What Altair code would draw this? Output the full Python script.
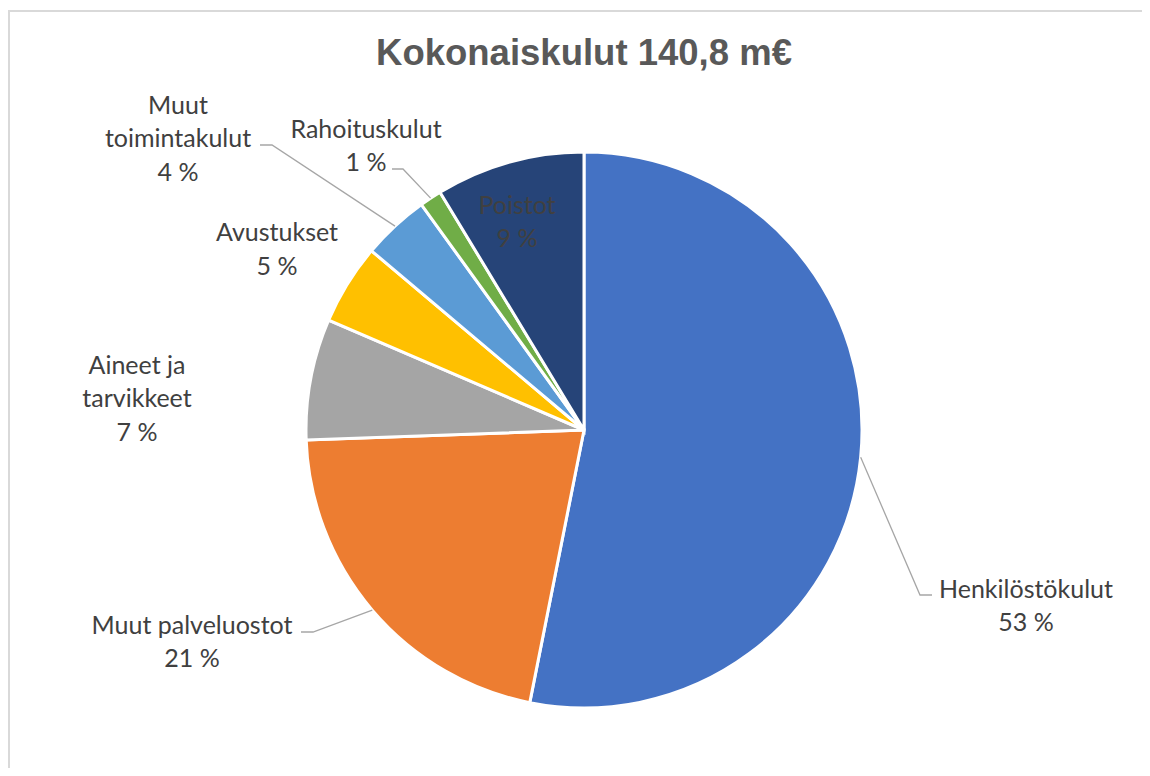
import altair as alt
import pandas as pd

# ---- data ----
categories = ["Henkilöstökulut", "Muut palveluostot", "Aineet ja tarvikkeet",
              "Avustukset", "Muut toimintakulut", "Rahoituskulut", "Poistot"]
label_names = ["Henkilöstökulut", "Muut palveluostot", "Aineet ja\ntarvikkeet",
               "Avustukset", "Muut\ntoimintakulut", "Rahoituskulut", "Poistot"]
values = [74.8, 30.0, 9.9, 6.6, 5.5, 1.8, 12.2]  # m€
colors = ["#4472C4", "#ED7D31", "#A5A5A5", "#FFC000", "#5B9BD5", "#70AD47", "#264478"]
TITLE = "Kokonaiskulut 140,8 m€"

# ---- layout (pixels relative to pie centre, y up; label y = first line) ----
W, H = 1134, 760
CX, CY = 576, 422          # pie centre inside plot area
R = 278
LABEL_POS = {
    "Henkilöstökulut": (442, -159.5),
    "Muut palveluostot": (-392, -195.5),
    "Aineet ja tarvikkeet": (-447, 64.5),
    "Avustukset": (-307, 197),
    "Muut toimintakulut": (-406, 324.5),
    "Rahoituskulut": (-218, 300.5),
    "Poistot": (-67, 224.5),
}
LEADERS = {
    "Henkilöstökulut": (336, -165, 348, -165),
    "Muut palveluostot": (-271, -202, -283, -202),
    "Muut toimintakulut": (-312, 285, -324, 285),
    "Rahoituskulut": (-181, 261, -192, 261),
}

df = pd.DataFrame({"idx": list(range(len(categories))), "cat": categories,
                   "name": label_names, "value": values})
df["lx"] = [LABEL_POS[c][0] for c in categories]
df["ly"] = [LABEL_POS[c][1] for c in categories]
for k, col in enumerate(["ex", "ey", "hx", "hy"]):
    df[col] = [LEADERS[c][k] if c in LEADERS else None for c in categories]

XS = alt.Scale(domain=[-CX, W - CX], nice=False, zero=False)
YS = alt.Scale(domain=[-(H - CY), CY], nice=False, zero=False)

base = (alt.Chart(df)
        .transform_window(cum="sum(value)", sort=[alt.SortField("idx", order="ascending")])
        .transform_joinaggregate(total="sum(value)")
        .transform_calculate(mid="(datum.cum - datum.value/2)/datum.total*2*PI"))

arcs = alt.Chart(df).mark_arc(outerRadius=R, stroke="white", strokeWidth=3).encode(
    theta=alt.Theta("value:Q", stack=True),
    order=alt.Order("idx:Q", sort="ascending"),
    color=alt.Color("cat:N", scale=alt.Scale(domain=categories, range=colors), legend=None),
    x=alt.XDatum(0, scale=XS, axis=None),
    y=alt.YDatum(0, scale=YS, axis=None),
)

leaders = (base.transform_filter("isValid(datum.ex)")
           .transform_calculate(pts="[0,1,2]")
           .transform_flatten(["pts"])
           .transform_calculate(
               px=f"datum.pts==0 ? {R}*sin(datum.mid) : (datum.pts==1 ? datum.ex : datum.hx)",
               py=f"datum.pts==0 ? {R}*cos(datum.mid) : (datum.pts==1 ? datum.ey : datum.hy)")
           .mark_line(color="#A6A6A6", strokeWidth=1.3)
           .encode(x=alt.X("px:Q", scale=XS, axis=None),
                   y=alt.Y("py:Q", scale=YS, axis=None),
                   detail="cat:N",
                   order="pts:Q"))

labels = (base.transform_calculate(pct="round(datum.value/datum.total*100)")
          .transform_calculate(txt="datum.name + '\\n' + datum.pct + ' %'")
          .mark_text(font="Lato", fontSize=25, color="#404040", lineBreak="\n",
                     lineHeight=33.5, align="center", baseline="middle")
          .encode(x=alt.X("lx:Q", scale=XS, axis=None),
                  y=alt.Y("ly:Q", scale=YS, axis=None),
                  text="txt:N"))

title = alt.Chart(pd.DataFrame({"t": [TITLE]})).mark_text(
    font="Liberation Sans", fontSize=36.5, fontWeight="bold", color="#595959",
    align="center", baseline="alphabetic").encode(
    x=alt.XDatum(0, scale=XS, axis=None), y=alt.value(57), text="t:N")

one = pd.DataFrame({"a": [0]})
top_border = alt.Chart(one).mark_rule(color="#D9D9D9", strokeWidth=2).encode(
    x=alt.value(0), x2=alt.value(W), y=alt.value(3))
left_border = alt.Chart(one).mark_rule(color="#D9D9D9", strokeWidth=2).encode(
    x=alt.value(1), y=alt.value(2), y2=alt.value(H))

chart = (alt.layer(arcs, leaders, labels, title, top_border, left_border)
         .properties(width=W, height=H, padding=0,
                     autosize=alt.AutoSizeParams(type="none"))
         .configure_view(stroke=None))

chart.save("out.html", embed_options={"renderer": "svg", "actions": False})
